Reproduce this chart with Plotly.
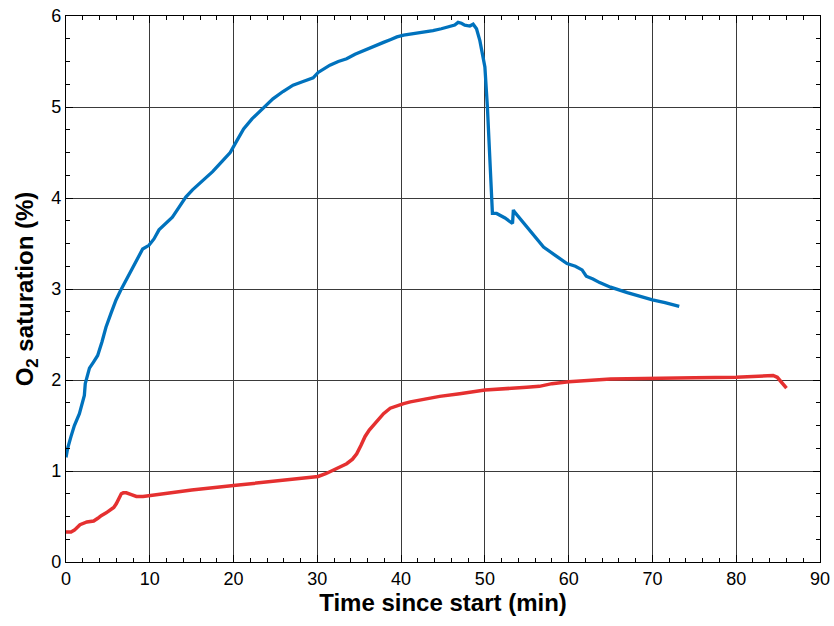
import plotly.graph_objects as go

# Blue series (upper curve)
blue_t = [0.0, 0.2, 0.6, 1.0, 1.6, 2.19, 2.3, 2.5, 2.8, 3.3, 3.78, 4.3, 4.77, 5.4, 5.97, 6.5,
          6.96, 7.96, 8.6, 9.15, 9.9, 10.5, 11.1, 11.9, 12.7, 13.5, 14.3, 15.1, 15.9, 16.7,
          17.5, 18.6, 19.6, 20.4, 21.2, 22.2, 23.2, 24.0, 24.7, 25.9, 27.1, 28.3, 29.5,
          30.1, 30.8, 31.5, 32.5, 33.5, 34.5, 35.5, 36.7, 37.9, 38.7, 39.5, 40.3, 41.1,
          42.5, 43.8, 44.8, 45.8, 46.4, 46.8, 47.2, 47.6, 48.2, 48.6, 49.0, 49.4, 49.7,
          50.0, 50.3, 50.6, 50.9, 51.4, 52.4, 53.3, 53.4, 53.5, 54.2, 55.0, 56.0, 57.0,
          58.4, 59.8, 60.8, 61.6, 62.1, 62.9, 63.7, 65.0, 67.0, 68.5, 70.0, 71.5, 73.2]
blue_v = [1.15, 1.25, 1.38, 1.5, 1.63, 1.83, 1.96, 2.03, 2.13, 2.2, 2.27, 2.42, 2.58, 2.74,
          2.88, 2.98, 3.06, 3.22, 3.33, 3.44, 3.48, 3.55, 3.65, 3.72, 3.79, 3.9, 4.01, 4.09,
          4.16, 4.22, 4.29, 4.4, 4.5, 4.63, 4.76, 4.87, 4.96, 5.03, 5.09, 5.17, 5.24, 5.28,
          5.32, 5.38, 5.42, 5.46, 5.5, 5.53, 5.58, 5.62, 5.67, 5.71, 5.74, 5.77, 5.79, 5.80,
          5.82, 5.84, 5.86, 5.88, 5.9, 5.93, 5.92, 5.9, 5.89, 5.91, 5.86, 5.73, 5.6,
          5.44, 5.0, 4.41, 3.83, 3.83, 3.78, 3.72, 3.87, 3.85, 3.77, 3.68, 3.57, 3.46,
          3.37, 3.28, 3.25, 3.21, 3.14, 3.11, 3.07, 3.02, 2.96, 2.92, 2.88, 2.85, 2.81]

# Red series (lower curve)
red_t = [0.0, 0.6, 1.0, 1.67, 2.5, 3.3, 3.8, 4.2, 4.8, 5.25, 5.7, 6.0, 6.3, 6.6, 6.84, 7.2,
         7.8, 8.4, 9.2, 10.0, 12.0, 15.0, 20.0, 26.7, 30.1, 31.0, 31.9, 32.7, 33.5, 34.2,
         34.7, 35.2, 35.7, 36.2, 36.7, 37.3, 37.9, 38.7, 39.5, 40.3, 41.1, 42.8, 44.6,
         47.0, 50.0, 55.0, 56.5, 58.0, 60.0, 65.0, 70.0, 75.0, 80.0, 84.4, 84.9, 85.5, 86.0]
red_v = [0.33, 0.33, 0.35, 0.41, 0.44, 0.45, 0.48, 0.51, 0.54, 0.57, 0.6, 0.64, 0.7, 0.75,
         0.76, 0.76, 0.74, 0.72, 0.72, 0.73, 0.75, 0.79, 0.84, 0.91, 0.94, 0.97, 1.01, 1.04,
         1.08, 1.13, 1.19, 1.28, 1.38, 1.45, 1.5, 1.57, 1.63, 1.69, 1.72, 1.74, 1.76, 1.79,
         1.82, 1.85, 1.89, 1.92, 1.93, 1.96, 1.98, 2.01, 2.02, 2.025, 2.03, 2.05, 2.03,
         1.97, 1.91]

x_ticks = [0, 10, 20, 30, 40, 50, 60, 70, 80, 90]
y_ticks = [0, 1, 2, 3, 4, 5, 6]

fig = go.Figure()
fig.add_trace(go.Scatter(x=blue_t, y=blue_v, mode="lines",
                         line=dict(color="#0072BD", width=3.3), showlegend=False))
fig.add_trace(go.Scatter(x=red_t, y=red_v, mode="lines",
                         line=dict(color="#E53030", width=3.5), showlegend=False))

axis_common = dict(
    showline=True, linecolor="black", linewidth=1.2, mirror="allticks",
    ticks="inside", ticklen=7, tickcolor="black", automargin=False,
    ticklabeloverflow="allow",
    showgrid=True, gridcolor="#3a3a3a", gridwidth=1, zeroline=False,
    tickfont=dict(family="Liberation Sans, Arial", size=18, color="black"),
)

fig.update_xaxes(range=[0, 90], tickvals=x_ticks,
                 minor=dict(dtick=2, ticks="inside", ticklen=4, tickcolor="black", showgrid=False),
                 title=dict(text="<b>Time since start (min)</b>", standoff=6,
                            font=dict(family="Liberation Sans, Arial", size=24, color="black")),
                 **axis_common)
fig.update_yaxes(range=[0, 6], tickvals=y_ticks,
                 minor=dict(dtick=0.25, ticks="inside", ticklen=4, tickcolor="black", showgrid=False),
                 title=dict(text="<b>O<sub>2</sub> saturation (%)</b>", standoff=10,
                            font=dict(family="Liberation Sans, Arial", size=24, color="black")),
                 **axis_common)

fig.update_layout(width=834, height=626, margin=dict(l=66, r=14, t=16, b=64),
                  plot_bgcolor="white", paper_bgcolor="white")

# remove the browser's default 8px body margin so the figure fills the window exactly
fig.write_html("out.html", config={"displayModeBar": False},
               post_script="document.body.style.margin='0';document.body.style.overflow='hidden';")
